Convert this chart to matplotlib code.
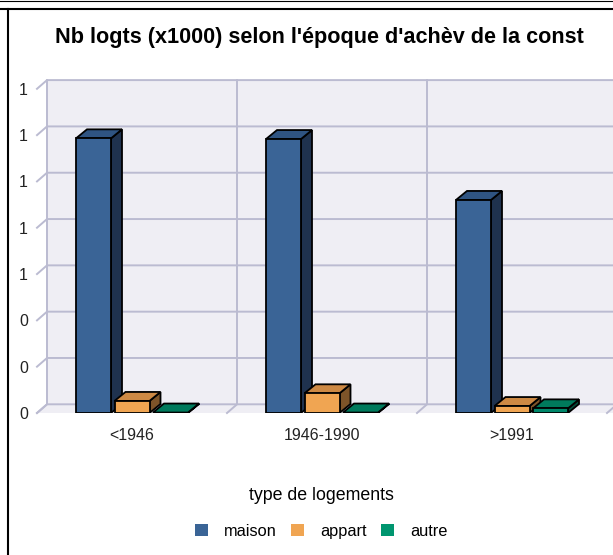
import matplotlib
matplotlib.use('Agg')
import matplotlib.pyplot as plt
from matplotlib.patches import Polygon, Patch
from matplotlib.lines import Line2D
from matplotlib.ticker import FormatStrFormatter

plt.rcParams['font.family'] = ['Liberation Sans', 'DejaVu Sans']

# data (x1000 logements)
categories = ['<1946', '1946-1990', '>1991']
maison = [1.186, 1.183, 0.920]
appart = [0.052, 0.085, 0.030]
autre = [0.002, 0.002, 0.020]
series_names = ['maison', 'appart', 'autre']
yticks = [0, 0.2, 0.4, 0.6, 0.8, 1.0, 1.2, 1.4]

# front, top, side colours per series
face_col = ['#3a6496', '#f0a552', '#00876a']
top_col = ['#2f5482', '#cd8944', '#007a5c']
side_col = ['#1f324e', '#7d5429', '#004a38']
legend_col = ['#3a6496', '#f0a552', '#00966f']
wall_col = '#efeef4'
grid_col = '#bbbbd1'

W, H = 613, 555
fig = plt.figure(figsize=(W / 100, H / 100), dpi=100)
ax = fig.add_axes([37 / W, (H - 413) / H, 576 / W, (413 - 80.1) / H])

# pixel sizes converted to data units (190 px per category, 231.6 px per unit)
px_x, px_y = 190.0, 231.6
wdx, wdy = 10 / px_x, 8.7 / px_y      # depth of the back wall
bdx, bdy = 11 / px_x, 9 / px_y        # depth of the bars
bar_w = 35 / px_x
step = 38.5 / px_x
xmax = -0.5 + 576 / px_x
ymax = yticks[-1] + wdy
ax.set_xlim(-0.5, xmax)
ax.set_ylim(0, ymax)

# back wall and floor
ax.add_patch(Polygon([(-0.5 + wdx, wdy), (xmax + 1, wdy), (xmax + 1, ymax + 1),
                      (-0.5 + wdx, ymax + 1)], fc=wall_col, ec='none', zorder=0))
ax.add_patch(Polygon([(-0.5, 0), (xmax + 1, 0), (xmax + 1, wdy), (-0.5 + wdx, wdy)],
                     fc=wall_col, ec='none', zorder=0))
for t in yticks:
    ax.plot([-0.5, -0.5 + wdx, xmax + 1], [t, t + wdy, t + wdy], color=grid_col,
            lw=1.4, zorder=1, clip_on=False, solid_joinstyle='miter')
for b in [-0.5, 0.5, 1.5, 2.5]:
    ax.plot([b, b + wdx, b + wdx], [0, wdy, ymax], color=grid_col, lw=1.4,
            zorder=1, clip_on=False, solid_joinstyle='miter')

# 3d bars
values = [maison, appart, autre]
z = 2
for i in range(len(categories)):
    for j, vals in enumerate(values):
        h = vals[i]
        x0 = i + (j - 1) * step - bar_w / 2
        x1 = x0 + bar_w
        kw = dict(ec='black', lw=1.3, joinstyle='miter')
        ax.add_patch(Polygon([(x1, 0), (x1 + bdx, bdy), (x1 + bdx, h + bdy), (x1, h)],
                             fc=side_col[j], zorder=z, **kw))
        ax.add_patch(Polygon([(x0, h), (x1, h), (x1 + bdx, h + bdy), (x0 + bdx, h + bdy)],
                             fc=top_col[j], zorder=z + 1, **kw))
        ax.add_patch(Polygon([(x0, 0), (x1, 0), (x1, h), (x0, h)],
                             fc=face_col[j], zorder=z + 2, **kw))
        z += 3

ax.set_xticks(range(len(categories)), categories)
ax.set_yticks(yticks)
ax.yaxis.set_major_formatter(FormatStrFormatter('%.0f'))
ax.tick_params(length=0, labelsize=11.5, colors='#222222')
ax.tick_params(axis='x', pad=11)
ax.tick_params(axis='y', pad=6.5)
for s in ax.spines.values():
    s.set_visible(False)
ax.set_facecolor('none')

fig.text(319 / W, 1 - 37 / H, "Nb logts (x1000) selon l'époque d'achèv de la const",
         ha='center', va='center', fontsize=15.6, fontweight='bold')

handles = [Patch(fc=c, ec='none') for c in legend_col]
fig.legend(handles, series_names, loc='center', bbox_to_anchor=(321 / W, 1 - 513 / H),
           ncol=3, frameon=False, fontsize=11.8, title='type de logements',
           title_fontsize=12.8, handlelength=0.8, handleheight=0.8,
           handletextpad=0.95, columnspacing=0.9, borderpad=0, labelspacing=1.2)

# page frame lines
fig.add_artist(Line2D([0, 1], [1 - 0.5 / H] * 2, color='black', lw=0.8))
fig.add_artist(Line2D([0, 1], [1 - 9 / H] * 2, color='black', lw=1.5))
fig.add_artist(Line2D([7.5 / W] * 2, [0, 1 - 9 / H], color='black', lw=1.5))

fig.savefig('out.png', dpi=100)
